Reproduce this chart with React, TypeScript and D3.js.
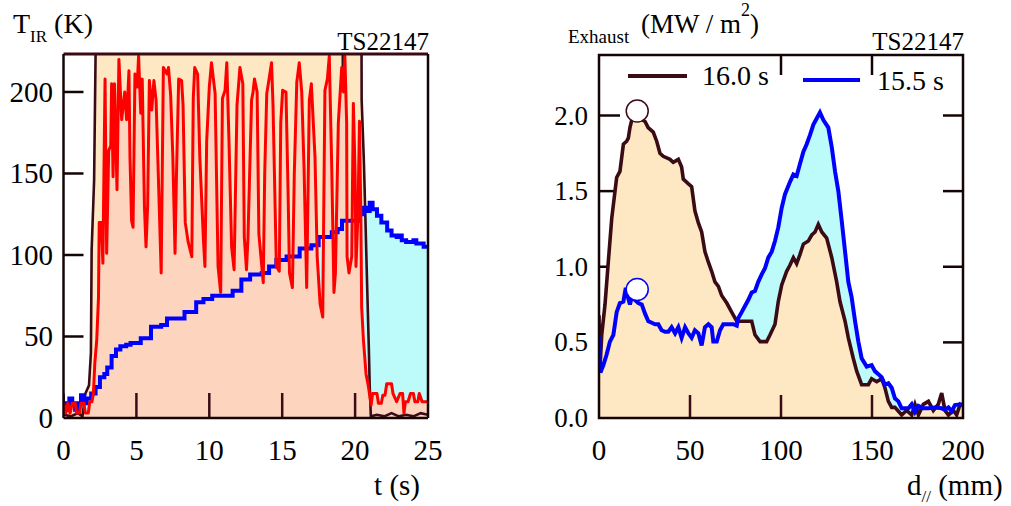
import React from "react";
import * as d3 from "d3";

// ---------- Left panel data: T_IR (K) vs t (s) ----------
const tRed = [0,0.15,0.3,0.45,0.6,0.8,0.9,1.1,1.2,1.4,1.5,1.7,1.8,1.95,2.05,2.15,2.28,2.4,2.45,2.6,2.7,2.85,2.96,3.1,3.24,3.3,3.4,3.5,3.67,3.8,3.99,4.2,4.33,4.49,4.56,4.67,4.77,4.9,5.05,5.15,5.3,5.4,5.55,5.66,5.77,5.89,6.05,6.2,6.35,6.5,6.7,6.85,7.1,7.2,7.35,7.5,7.65,7.75,7.9,8.1,8.2,8.35,8.55,8.8,8.9,9.0,9.2,9.35,9.6,9.7,9.82,10.0,10.15,10.4,10.6,10.78,10.9,11.08,11.2,11.35,11.53,11.7,11.9,12.1,12.3,12.4,12.55,12.65,12.9,13.0,13.1,13.28,13.4,13.7,13.8,13.94,14.1,14.27,14.37,14.6,14.8,14.9,15.03,15.26,15.4,15.5,15.7,15.83,16.0,16.17,16.34,16.5,16.68,16.86,17.0,17.25,17.4,17.6,17.78,17.93,18.1,18.23,18.4,18.55,18.65,18.85,19.08,19.2,19.3,19.42,19.45,19.58,19.77,19.88,20.0,20.06,20.2,20.3,20.4,20.45,20.57,20.75,20.9,21.0,21.1,21.2,21.5,21.6,21.8,21.9,22.05,22.17,22.5,22.6,22.85,23.08,23.26,23.35,23.45,23.63,23.8,24.0,24.1,24.3,24.4,24.6,25];
const vRed = [9,3,9,3,9,9,3,3,9,9,3,3,10,10,15,34,48,74,120,120,95,208,101,164,167,205,148,205,140,220,183,200,183,213,160,121,117,211,203,222,187,208,130,105,130,207,189,207,195,150,89,215,211,215,198,160,101,150,208,207,192,120,108,99,196,215,211,160,109,93,170,203,218,199,93,77,196,201,218,170,105,91,192,215,205,111,91,110,195,200,208,200,113,83,150,199,208,218,192,93,90,181,201,200,140,89,80,150,206,218,200,153,80,195,205,160,99,70,62,201,208,222,153,77,89,181,215,200,222,181,99,89,99,193,150,93,126,182,120,68,48,27,20,14,8,15,15,9,9,14,14,21,21,15,10,15,15,3,10,10,15,15,10,10,15,10,10];

const tBlue = [0,0.2,0.4,0.6,0.8,1.0,1.2,1.4,1.6,1.9,2.2,2.5,2.8,3.0,3.3,3.6,3.9,4.3,4.6,5.3,6.0,6.7,7.1,7.8,8.3,9.1,9.6,10.2,11.2,11.6,12.2,12.8,13.6,14.1,14.6,15.3,15.6,16.2,17.0,17.5,18.4,18.8,19.1,20.1,20.3,20.56,20.8,21.0,21.2,21.5,21.8,22.2,22.5,22.85,23.1,23.2,23.5,24.0,24.2,24.7,25];
const vBlue = [9,5,12,9,5,9,14,9,12,15,19,25,27,31,38,42,44,45,46,49,56,57,61,61,65,71,73,75,75,78,85,88,89,93,97,99,99,104,106,111,114,116,121,121,125,129,127,132,128,124,120,115,112,111,112,109,108,109,107,105,104];

const tBrown = [0,0.05,0.5,1.0,1.3,1.5,1.75,1.88,1.93,2.1,2.2,2.25,19.1,19.17,19.24,20.42,20.45,20.6,20.7,20.8,20.95,21.0,21.08,21.5,22,22.5,23,23.5,24,24.5,25];
const vBrown = [15,2,1,3,1,15,20,40,103,146,223,300,300,200,300,300,195,158,125,90,40,20,1,2,1,3,1,2,1,3,2];

const leftXTicks = [0,5,10,15,20,25];
const leftYTicks = [0,50,100,150,200];

// ---------- Right panel data: q_Exhaust (MW/m2) vs d// (mm) ----------
const d16 = [0,0.4,1.5,3.3,5.1,7,9.7,11.5,13.4,15.2,16.1,17,18,19.8,22.5,25.3,27,29.8,31.7,33.5,35.3,39,40.8,43.6,45.4,46.3,49,50.9,52.7,54.6,56.4,58.2,60.1,61.9,63.7,65.6,67.4,70.2,72.9,75.7,83.9,85.7,88.5,92.1,94,96.7,98.5,100.4,103.1,104.9,106.8,108.6,110.4,112.3,115,116.9,118.7,120.5,122.4,125.1,127.9,130.6,132.4,135.2,137,139.7,141.6,144.3,148,149.8,152.6,155.3,157.1,159,160.8,162.6,166.3,169,171.8,173.6,175.5,178.2,181,183.7,186.4,188.3,190.1,192,194.7,196.5,198.4,200];
const q16 = [0.68,0.3,0.55,0.75,1.03,1.32,1.59,1.63,1.81,1.83,1.85,1.92,1.97,1.98,1.98,1.96,1.92,1.89,1.83,1.75,1.73,1.71,1.69,1.71,1.66,1.58,1.55,1.53,1.37,1.29,1.23,1.10,1.03,0.97,0.90,0.87,0.81,0.76,0.70,0.64,0.64,0.55,0.505,0.505,0.55,0.62,0.77,0.88,0.97,1.01,1.06,1.02,1.08,1.15,1.17,1.21,1.23,1.28,1.23,1.19,1.06,0.90,0.77,0.64,0.53,0.395,0.31,0.22,0.22,0.26,0.24,0.26,0.20,0.11,0.07,0.07,0.02,0.05,0.02,0.09,0.02,0.09,0.11,0.05,0.09,0.165,0.05,0.02,0.05,0.02,0.09,0.08];

const d155 = [0,0.8,2.4,4.2,6,7.9,9.7,11.5,13.4,14.7,16.1,17,18,19.8,21.6,23.5,25.3,27.1,29,30.8,32.6,34.4,36.3,38.1,39.9,41.8,43.6,45.4,47.3,49.1,50.9,52.7,54.6,56.4,58.2,60.1,61.9,62.8,64.7,66.5,68.3,71.1,73.8,75.7,76.5,78.4,80.2,82,83.9,85.7,87.5,89.4,91.2,93,94.9,96.7,98.5,100.4,102.2,104.9,106.8,108.6,110.4,112.3,114.1,115.9,117.8,119.6,121.4,123.3,126,127.9,129.7,131.5,133.4,135.2,137,138.8,140.7,142.5,144.3,147.1,149.8,151.6,153.5,155.3,157.1,159,160.8,162.6,164.5,166.3,170,171.8,173.6,175.5,178.2,181,184.6,188.3,190.1,192,193.8,195.6,198.4,200];
const q155 = [0.54,0.3,0.35,0.42,0.505,0.55,0.70,0.76,0.77,0.86,0.79,0.75,0.80,0.78,0.76,0.75,0.69,0.64,0.63,0.62,0.62,0.58,0.57,0.57,0.60,0.56,0.60,0.53,0.60,0.56,0.53,0.58,0.56,0.48,0.60,0.62,0.60,0.505,0.505,0.58,0.62,0.62,0.62,0.61,0.66,0.70,0.74,0.78,0.83,0.84,0.90,0.95,0.99,1.06,1.10,1.17,1.26,1.39,1.48,1.56,1.61,1.60,1.68,1.76,1.81,1.87,1.94,1.98,2.02,1.97,1.92,1.79,1.63,1.50,1.30,1.10,0.90,0.80,0.64,0.505,0.395,0.34,0.35,0.31,0.29,0.27,0.22,0.23,0.20,0.13,0.11,0.064,0.064,0.09,0.04,0.08,0.064,0.064,0.07,0.064,0.055,0.07,0.045,0.085,0.09,0.09];

const peakMarkers = [
  { d: 21, q: 2.03, series: "16.0 s" },
  { d: 21, q: 0.85, series: "15.5 s" },
];

const rightXTicks = [0,50,100,150,200];
const rightYTicks = [0,0.5,1.0,1.5,2.0];
const rightTopTicks = [100,150];
const legendItems = ["16.0 s", "15.5 s"];

// ---------- styling ----------
const BROWN = "#3b0b15";
const ORANGE = "#fde8c3";
const SALMON = "#fdd4be";
const CYAN = "#bdfbfb";
const BLUE = "#0000ff";
const RED = "#ff0000";
const AX = "#140406";
const FF = "Liberation Serif";

function zip(xs: number[], ys: number[]): [number, number][] {
  return xs.map((x, i) => [x, ys[i]]);
}

export default function App() {
  const xL = d3.scaleLinear().domain([0, 25]).range([63.5, 428]);
  const yL = d3.scaleLinear().domain([0, 223.3]).range([418, 54]);
  const xR = d3.scaleLinear().domain([0, 200]).range([599, 963]);
  const yR = d3.scaleLinear().domain([0, 2.4]).range([418, 55]);

  const lineL = d3.line<[number, number]>().x(d => xL(d[0])).y(d => yL(d[1]));
  const stepL = d3.line<[number, number]>().x(d => xL(d[0])).y(d => yL(d[1])).curve(d3.curveStepAfter);
  const areaL = d3.area<[number, number]>().x(d => xL(d[0])).y0(yL(0)).y1(d => yL(d[1]));
  const stepAreaL = d3.area<[number, number]>().x(d => xL(d[0])).y0(yL(0)).y1(d => yL(d[1])).curve(d3.curveStepAfter);
  const lineR = d3.line<[number, number]>().x(d => xR(d[0])).y(d => yR(d[1]));
  const areaR = d3.area<[number, number]>().x(d => xR(d[0])).y0(yR(0)).y1(d => yR(d[1]));

  const red = zip(tRed, vRed);
  const blue = zip(tBlue, vBlue);
  const brown = zip(tBrown, vBrown);
  const s16 = zip(d16, q16);
  const s155 = zip(d155, q155);

  const fs = 29;

  return (
    <svg width={1011} height={506} style={{ position: "absolute", left: 0, top: 0, background: "#fff" }}>
      <defs>
        <clipPath id="clipL"><rect x={63.5} y={54} width={364.5} height={364} /></clipPath>
        <clipPath id="clipR"><rect x={599} y={55} width={364} height={363} /></clipPath>
      </defs>

      {/* ================= LEFT PANEL ================= */}
      {leftYTicks.filter(v => v > 0).map(v => (
        <line key={"lyt" + v} x1={xL(0)} x2={xL(0) + 20} y1={yL(v)} y2={yL(v)} stroke={AX} strokeWidth={2.5} />
      ))}
      <g clipPath="url(#clipL)">
        <path d={areaL(brown) || ""} fill={ORANGE} />
        <path d={stepAreaL(blue) || ""} fill={CYAN} />
        <path d={areaL(red) || ""} fill={SALMON} />
        <path d={lineL(brown) || ""} fill="none" stroke={BROWN} strokeWidth={2.6} />
        <path d={stepL(blue) || ""} fill="none" stroke={BLUE} strokeWidth={4} />
        <path d={lineL(red) || ""} fill="none" stroke={RED} strokeWidth={3} strokeLinejoin="round" />
      </g>
      {leftXTicks.filter(v => v > 0 && v < 25).map(v => (
        <line key={"lxt" + v} x1={xL(v)} x2={xL(v)} y1={yL(0)} y2={yL(0) - 25} stroke={BROWN} strokeWidth={2.5} />
      ))}
      <line x1={63.5} x2={428} y1={54} y2={54} stroke={BROWN} strokeWidth={3} />
      <line x1={63.5} x2={63.5} y1={54} y2={418} stroke={AX} strokeWidth={2.5} />
      <line x1={428} x2={428} y1={54} y2={418} stroke={AX} strokeWidth={2.5} />
      <line x1={63.5} x2={428} y1={418} y2={418} stroke={AX} strokeWidth={2.5} />

      {/* ================= RIGHT PANEL ================= */}
      {rightYTicks.filter(v => v > 0).map(v => (
        <g key={"ryt" + v}>
          <line x1={xR(0)} x2={xR(0) + 21} y1={yR(v)} y2={yR(v)} stroke={AX} strokeWidth={2.5} />
          <line x1={xR(200)} x2={xR(200) - 20} y1={yR(v)} y2={yR(v)} stroke={AX} strokeWidth={2.5} />
        </g>
      ))}
      <g clipPath="url(#clipR)">
        <path d={areaR(s155) || ""} fill={CYAN} />
        <path d={areaR(s16) || ""} fill={ORANGE} />
        <path d={lineR(s16) || ""} fill="none" stroke={BROWN} strokeWidth={3.6} />
        <path d={lineR(s155) || ""} fill="none" stroke={BLUE} strokeWidth={4} />
      </g>
      {rightXTicks.filter(v => v > 0 && v < 200).map(v => (
        <line key={"rxt" + v} x1={xR(v)} x2={xR(v)} y1={yR(0)} y2={yR(0) - 23} stroke={BROWN} strokeWidth={2.5} />
      ))}
      {rightTopTicks.map(v => (
        <line key={"rtt" + v} x1={xR(v)} x2={xR(v)} y1={yR(2.4)} y2={yR(2.4) + 20} stroke={AX} strokeWidth={2.5} />
      ))}
      <rect x={599} y={55} width={364} height={363} fill="none" stroke={AX} strokeWidth={2.5} />

      {peakMarkers.map((m, i) => (
        <circle key={"pm" + i} cx={xR(m.d)} cy={yR(m.q)} r={11} fill="#fff"
          stroke={m.series === "16.0 s" ? BROWN : BLUE} strokeWidth={1.5} />
      ))}

      <line x1={628} x2={687} y1={76} y2={76} stroke={BROWN} strokeWidth={4} />
      <line x1={803} x2={860} y1={80} y2={80} stroke={BLUE} strokeWidth={4} />

      {/* ================= ALL TEXT ================= */}
      <g fontFamily={FF} fill="#000">
        {leftYTicks.map(v => (
          <text key={"lyl" + v} x={53} y={yL(v) + 10} fontSize={fs} textAnchor="end" fontFamily={FF}>{v}</text>
        ))}
        {leftXTicks.map(v => (
          <text key={"lxl" + v} x={xL(v)} y={460} fontSize={fs} textAnchor="middle" fontFamily={FF}>{v}</text>
        ))}
        <text x={13} y={33} fontSize={28} fontFamily={FF}>T<tspan fontSize={17} dy={9}>IR</tspan><tspan fontSize={28} dy={-9}> (K)</tspan></text>
        <text x={429} y={50} fontSize={25} textAnchor="end" fontFamily={FF}>TS22147</text>
        <text x={420} y={495} fontSize={fs} textAnchor="end" fontFamily={FF}>t (s)</text>

        <text x={702} y={85} fontSize={28} fontFamily={FF}>{legendItems[0]}</text>
        <text x={877} y={90} fontSize={28} fontFamily={FF}>{legendItems[1]}</text>
        {rightYTicks.map(v => (
          <text key={"ryl" + v} x={588} y={yR(v) + 9} fontSize={27} textAnchor="end" fontFamily={FF}>{v.toFixed(1)}</text>
        ))}
        {rightXTicks.map(v => (
          <text key={"rxl" + v} x={xR(v)} y={460} fontSize={fs} textAnchor="middle" fontFamily={FF}>{v}</text>
        ))}
        <text x={568} y={43} fontSize={19} fontFamily={FF}>Exhaust</text>
        <text x={641} y={33} fontSize={27} fontFamily={FF}>(MW / m<tspan fontSize={18} dy={-17}>2</tspan><tspan fontSize={27} dy={17}>)</tspan></text>
        <text x={964} y={50} fontSize={25} textAnchor="end" fontFamily={FF}>TS22147</text>
        <text x={907} y={495} fontSize={fs} fontFamily={FF}>d<tspan fontSize={17} dy={7}>//</tspan><tspan fontSize={fs} dy={-7}> (mm)</tspan></text>
      </g>
    </svg>
  );
}
